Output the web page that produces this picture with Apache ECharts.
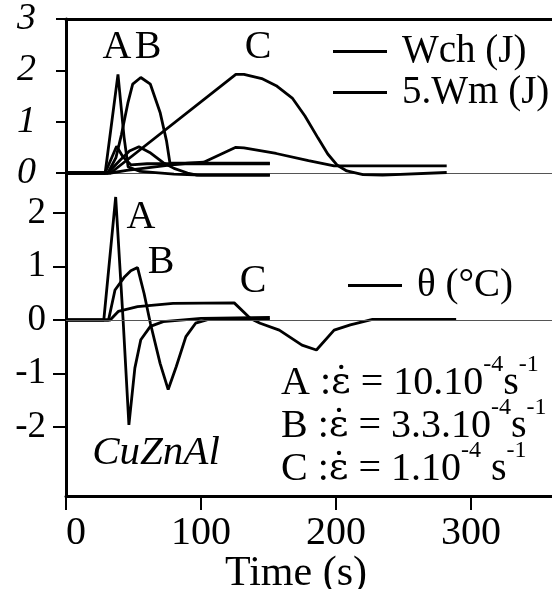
<!DOCTYPE html>
<html>
<head>
<meta charset="utf-8">
<script src="https://cdn.jsdelivr.net/npm/echarts@6/dist/echarts.min.js"></script>
<style>
  html, body { margin: 0; padding: 0; background: #fff; }
  #chart { width: 552px; height: 589px; }
</style>
</head>
<body>
<div id="chart"></div>
<script>
// Tick values
const timeTicks = [0, 100, 200, 300];
const energyTicks = [0, 1, 2, 3];
const tempTicks = [-2, -1, 0, 1, 2];

// Wch (J) against time (s), strain rates A, B, C
const wchA = [[0,0],[29,0],[38.5,1.92],[43,0.7],[46,0.12],[55,0.03],[80,-0.02],[100,-0.04],[151,-0.04]];
const wchB = [[0,0],[31,0],[37,0.3],[41,0.74],[45.8,1.36],[49.4,1.73],[55.4,1.86],[62.5,1.73],[69.7,1.18],[74.5,0.62],[77,0.19],[151,0.19]];
const wchC = [[0,0],[33,0],[125.8,1.92],[131.8,1.92],[145,1.84],[155.7,1.70],[167.6,1.46],[177,1.11],[186.7,0.68],[193.9,0.37],[201,0.15],[208,0.04],[220,-0.03],[234.5,-0.04],[282,0.01]];

// 5.Wm (J) against time (s)
const wmA = [[0,0],[29,0],[37.5,0.52],[42,0.32],[48,0.16],[60,0.18],[151,0.18]];
const wmB = [[0,0],[31,0],[40,0.25],[47,0.43],[54,0.51],[62,0.4],[72,0.2],[80,0.09],[90,0.0],[97,-0.04],[151,-0.04]];
const wmC = [[0,0],[33,0],[45,0.05],[60,0.1],[75,0.15],[90,0.19],[102,0.21],[125.8,0.5],[131.8,0.49],[155.7,0.38],[179.6,0.24],[198.6,0.14],[282,0.14]];

// temperature change θ (°C) against time (s)
const thetaA = [[0,0],[28,0],[36.8,2.30],[42.3,0],[46.6,-1.96],[51,-0.9],[55.4,-0.37],[62.5,-0.12],[72,-0.03],[100,0.03],[151,0.05]];
const thetaB = [[0,0],[31.5,0],[36.3,0.56],[43.5,0.81],[48,0.92],[53,0.98],[57.8,0.5],[62.5,-0.06],[69.7,-0.81],[75.7,-1.30],[81.7,-0.87],[88.8,-0.31],[96,-0.06],[105.5,0.01],[151,0.01]];
const thetaC = [[0,0],[32.7,0],[38.7,0.16],[53,0.25],[79.3,0.31],[124.6,0.32],[136.6,0.03],[143.8,-0.06],[158,-0.19],[174.8,-0.47],[185.5,-0.56],[198.6,-0.19],[210.6,-0.09],[227,0.01],[289,0.01]];

const SERIF = '"Liberation Serif", "DejaVu Serif", serif';
const INK = '#000';

function curve(name, data, xi, yi, extra) {
  return Object.assign({
    name: name, type: 'line', data: data,
    xAxisIndex: xi, yAxisIndex: yi,
    showSymbol: false, symbol: 'none', clip: false,
    lineStyle: { color: INK, width: 2.8 },
    itemStyle: { color: INK },
    animation: false
  }, extra || {});
}

function label(text, x, y, font) {
  return {
    type: 'text', x: x, y: y, silent: true,
    style: {
      text: text, fill: INK, font: font || ('40px ' + SERIF),
      align: 'center', verticalAlign: 'middle',
      textAlign: 'center', textVerticalAlign: 'middle'
    }
  };
}

// strain-rate line: main text, dotted epsilon and raised exponents
function rate(text, x, y) {
  return {
    type: 'text', x: x, y: y, silent: true,
    style: {
      text: text,
      fill: INK,
      font: '40px ' + SERIF,
      verticalAlign: 'middle', textVerticalAlign: 'middle',
      rich: {
        m: { fontSize: 40, fontFamily: SERIF, fill: INK, lineHeight: 60, verticalAlign: 'middle' },
        e: { fontSize: 38, fontFamily: '"DejaVu Serif", serif', fill: INK, lineHeight: 60, verticalAlign: 'middle' },
        u: { fontSize: 24, fontFamily: SERIF, fill: INK, lineHeight: 24, verticalAlign: 'top' }
      }
    }
  };
}

const legendBase = {
  orient: 'horizontal', icon: 'rect', itemWidth: 54, itemHeight: 3,
  selectedMode: false,
  itemStyle: { color: INK },
  textStyle: { fontFamily: SERIF, fontSize: 39, color: INK, padding: [0, 0, 0, 10] }
};

const chart = echarts.init(document.getElementById('chart'), null, { renderer: 'canvas' });

chart.setOption({
  backgroundColor: '#fff',
  animation: false,
  grid: [
    { left: 66, top: 12.3, width: 502.6, height: 160.7 },
    { left: 66, top: 173, width: 502.6, height: 323 }
  ],
  legend: [
    Object.assign({}, legendBase, { data: ['Wch (J)'], left: 328, top: 27 }),
    Object.assign({}, legendBase, { data: ['5.Wm (J)'], left: 328, top: 68 }),
    Object.assign({}, legendBase, { data: ['θ (°C)'], left: 343, top: 261 })
  ],
  xAxis: [
    { // zero line of the energy panel
      gridIndex: 0, type: 'value', min: 0, max: 360, position: 'bottom',
      axisLine: { show: true, onZero: false, lineStyle: { color: '#555', width: 1.2 } },
      axisTick: { show: false }, axisLabel: { show: false }, splitLine: { show: false }
    },
    { // top frame
      gridIndex: 0, type: 'value', min: 0, max: 360, position: 'top',
      axisLine: { show: true, onZero: false, lineStyle: { color: INK, width: 3 } },
      axisTick: { show: false }, axisLabel: { show: false }, splitLine: { show: false }
    },
    { // time axis
      gridIndex: 1, type: 'value', min: 0, max: 360, interval: 100, position: 'bottom',
      axisLine: { show: true, onZero: false, lineStyle: { color: INK, width: 3 } },
      axisTick: { show: true, inside: false, length: 14, customValues: timeTicks, lineStyle: { color: INK, width: 2 } },
      axisLabel: {
        show: true, customValues: timeTicks, fontFamily: SERIF, fontSize: 40, color: INK,
        margin: 17, alignMinLabel: 'left'
      },
      splitLine: { show: false }
    }
  ],
  yAxis: [
    {
      gridIndex: 0, type: 'value', min: 0, max: 3, interval: 1,
      axisLine: { show: true, lineStyle: { color: INK, width: 3 } },
      axisTick: { show: true, inside: false, length: 10, lineStyle: { color: INK, width: 2 } },
      axisLabel: {
        fontFamily: SERIF, fontStyle: 'italic', fontSize: 38, color: INK, margin: 30,
        customValues: energyTicks
      },
      splitLine: { show: false }
    },
    {
      gridIndex: 1, type: 'value', min: -3.29, max: 2.748,
      axisLine: { show: true, lineStyle: { color: INK, width: 3 } },
      axisTick: { show: true, inside: false, length: 13, customValues: tempTicks, lineStyle: { color: INK, width: 2 } },
      axisLabel: {
        fontFamily: SERIF, fontSize: 37, color: INK, margin: 20,
        customValues: tempTicks
      },
      splitLine: { show: false }
    }
  ],
  series: [
    curve('Wch (J)', wchA, 0, 0),
    curve('Wch (J)', wchB, 0, 0),
    curve('Wch (J)', wchC, 0, 0),
    curve('5.Wm (J)', wmA, 0, 0),
    curve('5.Wm (J)', wmB, 0, 0),
    curve('5.Wm (J)', wmC, 0, 0),
    curve('θ (°C)', thetaA, 2, 1, {
      markLine: {
        silent: true, symbol: 'none', label: { show: false },
        lineStyle: { color: '#555', width: 1.2, type: 'solid' },
        data: [{ yAxis: 0 }]
      }
    }),
    curve('θ (°C)', thetaB, 2, 1),
    curve('θ (°C)', thetaC, 2, 1)
  ],
  graphic: [
    label('A', 117, 47),
    label('B', 148, 47),
    label('C', 258, 47),
    label('A', 141, 217),
    label('B', 161, 262),
    label('C', 253, 281),
    label('CuZnAl', 156, 453, 'italic 41px ' + SERIF),
    label('Time (s)', 296, 574, '42px ' + SERIF),
    rate('{m|A :}{e|ε̇}{m| = 10.10}{u|-4}{m|s}{u|-1}', 281, 383),
    rate('{m|B :}{e|ε̇}{m| = 3.3.10}{u|-4}{m|s}{u|-1}', 281, 426),
    rate('{m|C :}{e|ε̇}{m| = 1.10}{u|-4}{m| s}{u|-1}', 281, 469)
  ]
});
</script>
</body>
</html>
